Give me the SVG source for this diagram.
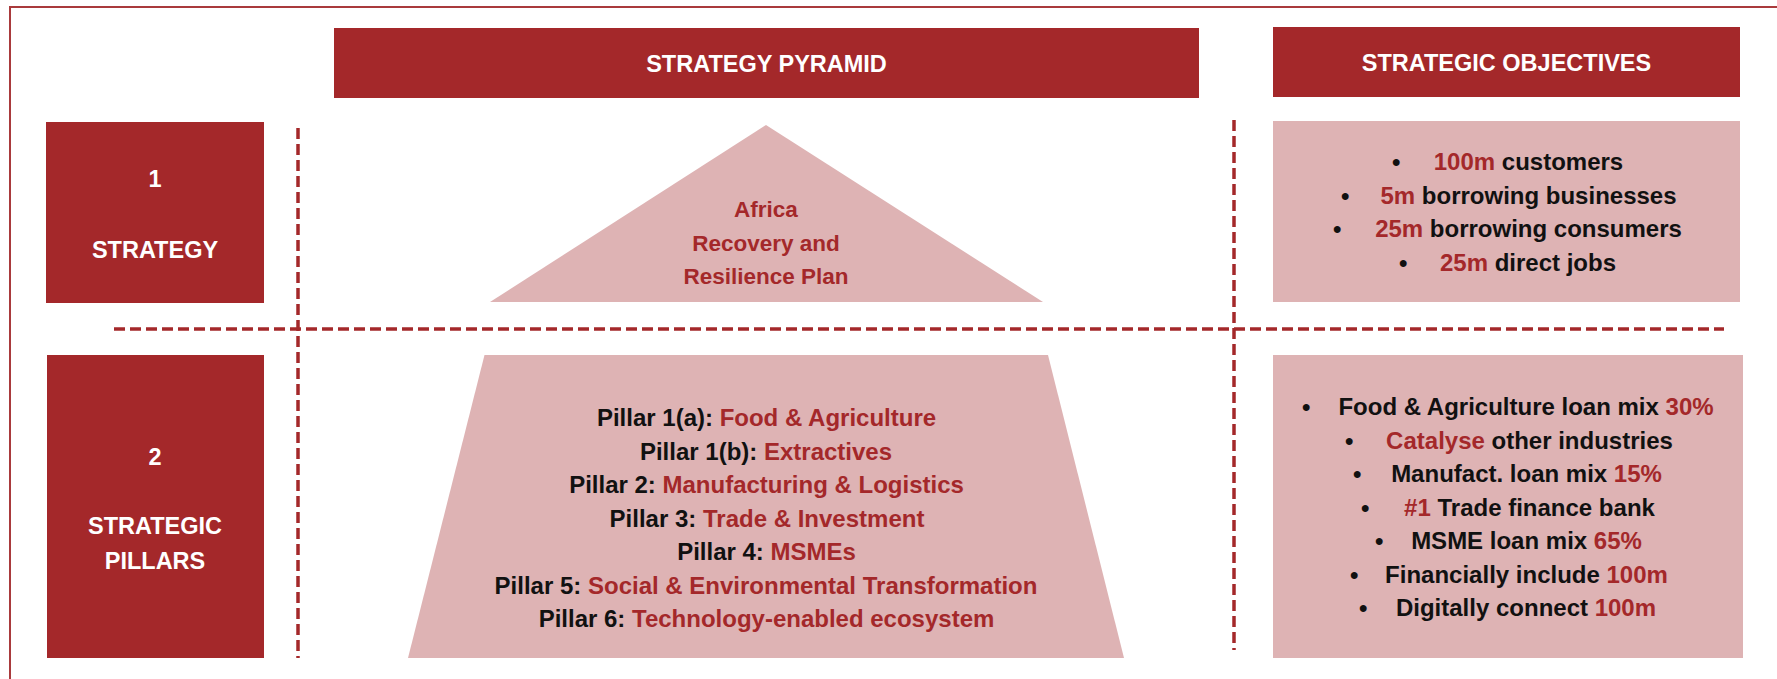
<svg xmlns="http://www.w3.org/2000/svg" width="1777" height="679" viewBox="0 0 1777 679">
<style>
text{font-family:"Liberation Sans",Arial,sans-serif;font-weight:bold}
.dark{fill:#A4282A}
.pink{fill:#DEB3B4}
.w{fill:#FFFFFF;font-size:23.5px;text-anchor:middle}
.r{fill:#A4282A}
.t{fill:#111111;font-size:24px}
.mid{text-anchor:middle}
.dash{stroke:#A4282A;stroke-width:3.5;stroke-dasharray:11 5;fill:none}
</style>
<rect x="0" y="0" width="1777" height="679" fill="#FFFFFF"/>
<rect x="10" y="7" width="1800" height="720" fill="none" stroke="#A93A3C" stroke-width="2"/>

<g id="header-pyramid">
<rect class="dark" x="334" y="28" width="865" height="70"/>
<text class="w" x="766.5" y="72">STRATEGY PYRAMID</text>
</g>
<g id="header-objectives">
<rect class="dark" x="1273" y="27" width="467" height="70"/>
<text class="w" x="1506.5" y="71">STRATEGIC OBJECTIVES</text>
</g>

<g id="level-1-strategy">
<rect class="dark" x="46" y="122" width="218" height="181"/>
<text class="w" x="155" y="187">1</text>
<text class="w" x="155" y="258">STRATEGY</text>
</g>
<g id="level-2-pillars">
<rect class="dark" x="47" y="355" width="217" height="303"/>
<text class="w" x="155" y="465">2</text>
<text class="w" x="155" y="534">STRATEGIC</text>
<text class="w" x="155" y="569">PILLARS</text>
</g>

<g id="pyramid-top">
<polygon class="pink" points="766,125 1043,302 490,302"/>
<text class="r mid" font-size="22.5" x="766" y="217">Africa</text>
<text class="r mid" font-size="22.5" x="766" y="251">Recovery and</text>
<text class="r mid" font-size="22.5" x="766" y="284">Resilience Plan</text>
</g>

<g id="pyramid-base">
<polygon class="pink" points="484.5,355 1048,355 1124,658 408,658"/>
<text class="t mid" x="766.5" y="426">Pillar 1(a): <tspan class="r">Food &amp; Agriculture</tspan></text>
<text class="t mid" x="766" y="459.5">Pillar 1(b): <tspan class="r">Extractives</tspan></text>
<text class="t mid" x="766.5" y="493">Pillar 2: <tspan class="r">Manufacturing &amp; Logistics</tspan></text>
<text class="t mid" x="767" y="526.5">Pillar 3: <tspan class="r">Trade &amp; Investment</tspan></text>
<text class="t mid" x="766.5" y="560">Pillar 4: <tspan class="r">MSMEs</tspan></text>
<text class="t mid" x="766" y="593.5">Pillar 5: <tspan class="r">Social &amp; Environmental Transformation</tspan></text>
<text class="t mid" x="766.5" y="627">Pillar 6: <tspan class="r">Technology-enabled ecosystem</tspan></text>
</g>

<g id="objectives-strategy">
<rect class="pink" x="1273" y="121" width="467" height="181"/>
<text class="t" x="1392" y="170">•</text>
<text class="t mid" x="1528.5" y="170"><tspan class="r">100m</tspan> customers</text>
<text class="t" x="1341" y="203.5">•</text>
<text class="t mid" x="1528.5" y="203.5"><tspan class="r">5m</tspan> borrowing businesses</text>
<text class="t" x="1333" y="237">•</text>
<text class="t mid" x="1528.5" y="237"><tspan class="r">25m</tspan> borrowing consumers</text>
<text class="t" x="1399" y="270.5">•</text>
<text class="t mid" x="1528" y="270.5"><tspan class="r">25m</tspan> direct jobs</text>
</g>

<g id="objectives-pillars">
<rect class="pink" x="1273" y="355" width="470" height="303"/>
<text class="t" x="1302" y="415">•</text>
<text class="t mid" x="1526" y="415">Food &amp; Agriculture loan mix <tspan class="r">30%</tspan></text>
<text class="t" x="1345" y="448.5">•</text>
<text class="t mid" x="1529.5" y="448.5"><tspan class="r">Catalyse</tspan> other industries</text>
<text class="t" x="1353" y="482">•</text>
<text class="t mid" x="1526.5" y="482">Manufact. loan mix <tspan class="r">15%</tspan></text>
<text class="t" x="1361" y="515.5">•</text>
<text class="t mid" x="1529.5" y="515.5"><tspan class="r">#1</tspan> Trade finance bank</text>
<text class="t" x="1375" y="549">•</text>
<text class="t mid" x="1526.5" y="549">MSME loan mix <tspan class="r">65%</tspan></text>
<text class="t" x="1350" y="582.5">•</text>
<text class="t mid" x="1526.5" y="582.5">Financially include <tspan class="r">100m</tspan></text>
<text class="t" x="1359" y="616">•</text>
<text class="t mid" x="1526" y="616">Digitally connect <tspan class="r">100m</tspan></text>
</g>

<g id="connectors">
<line class="dash" x1="298" y1="128" x2="298" y2="658"/>
<line class="dash" x1="1234" y1="120" x2="1234" y2="650"/>
<line class="dash" x1="114" y1="329" x2="1724" y2="329"/>
</g>
</svg>
